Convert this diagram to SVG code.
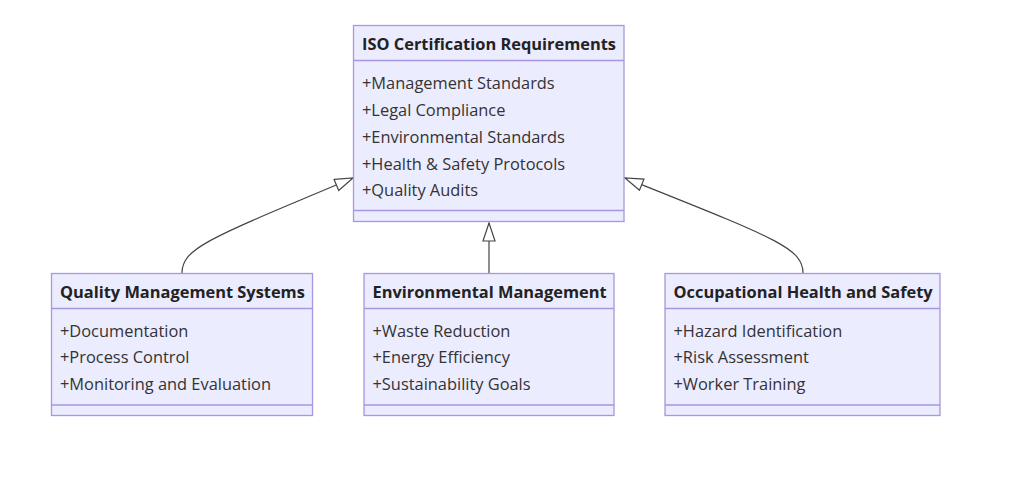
<svg xmlns="http://www.w3.org/2000/svg" width="1024" height="480" viewBox="0 0 1024 480">
<style>
.box{fill:#ECECFF;stroke:#A896E0;stroke-width:1.3}
.div{stroke:#A896E0;stroke-width:1.3}
.t{font-family:"Open Sans","Noto Sans",sans-serif;font-size:16.4px;font-weight:bold;fill:#222}
.m{font-family:"Open Sans","Noto Sans",sans-serif;font-size:16.4px;fill:#333}
.e{fill:none;stroke:#444;stroke-width:1.2}
</style>
<defs>
<marker id="tri" viewBox="0 0 20 14" refX="19" refY="7" markerWidth="20" markerHeight="14" markerUnits="userSpaceOnUse" orient="auto">
<path d="M1,1 L19,7 L1,13 Z" fill="#fff" stroke="#444" stroke-width="1.2"/>
</marker>
</defs>
<rect width="1024" height="480" fill="#fff"/>
<g id="edges">
<path class="e" d="M182,273 C182,248 210,238 353,178" marker-end="url(#tri)"/>
<path class="e" d="M489,273 L489,223" marker-end="url(#tri)"/>
<path class="e" d="M803,273 C803,248 775,238 625,178" marker-end="url(#tri)"/>
</g>
<g id="iso">
<rect class="box" x="353.5" y="25.5" width="270.5" height="196"/>
<line class="div" x1="353.5" y1="60.5" x2="624" y2="60.5"/>
<line class="div" x1="353.5" y1="210.5" x2="624" y2="210.5"/>
<text class="t" x="362" y="50">ISO Certification Requirements</text>
<text class="m" x="362" y="89">+Management Standards</text>
<text class="m" x="362" y="116">+Legal Compliance</text>
<text class="m" x="362" y="142.5">+Environmental Standards</text>
<text class="m" x="362" y="169.5">+Health &amp; Safety Protocols</text>
<text class="m" x="362" y="196">+Quality Audits</text>
</g>
<g id="qms">
<rect class="box" x="51.5" y="273.5" width="261" height="142"/>
<line class="div" x1="51.5" y1="308.5" x2="312.5" y2="308.5"/>
<line class="div" x1="51.5" y1="405" x2="312.5" y2="405"/>
<text class="t" x="60" y="298">Quality Management Systems</text>
<text class="m" x="60" y="336.5">+Documentation</text>
<text class="m" x="60" y="363">+Process Control</text>
<text class="m" x="60" y="389.5">+Monitoring and Evaluation</text>
</g>
<g id="env">
<rect class="box" x="364" y="273.5" width="250" height="142"/>
<line class="div" x1="364" y1="308.5" x2="614" y2="308.5"/>
<line class="div" x1="364" y1="405" x2="614" y2="405"/>
<text class="t" x="372.5" y="298">Environmental Management</text>
<text class="m" x="372.5" y="336.5">+Waste Reduction</text>
<text class="m" x="372.5" y="363">+Energy Efficiency</text>
<text class="m" x="372.5" y="389.5">+Sustainability Goals</text>
</g>
<g id="ohs">
<rect class="box" x="665" y="273.5" width="275" height="142"/>
<line class="div" x1="665" y1="308.5" x2="940" y2="308.5"/>
<line class="div" x1="665" y1="405" x2="940" y2="405"/>
<text class="t" x="673.5" y="298">Occupational Health and Safety</text>
<text class="m" x="673.5" y="336.5">+Hazard Identification</text>
<text class="m" x="673.5" y="363">+Risk Assessment</text>
<text class="m" x="673.5" y="389.5">+Worker Training</text>
</g>
</svg>
